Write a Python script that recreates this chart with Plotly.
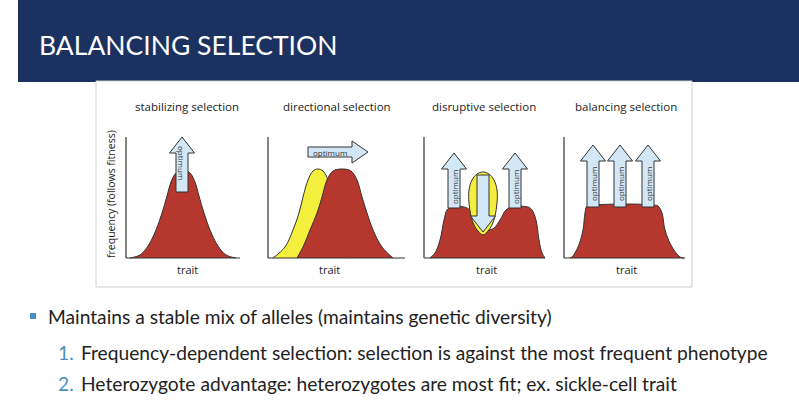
import plotly.graph_objects as go

FIG_W, FIG_H = 799, 412

# ---------------- text content ----------------
slide_title = "BALANCING SELECTION"
panel_titles = ["stabilizing selection", "directional selection",
                "disruptive selection", "balancing selection"]
trait_label = "trait"
freq_label = "frequency (follows fitness)"
arrow_label = "optimum"
bullet_main = "Maintains a stable mix of alleles (maintains genetic diversity)"
numbered_items = ["Frequency-dependent selection: selection is against the most frequent phenotype",
                  "Heterozygote advantage: heterozygotes are most fit; ex. sickle-cell trait"]
number_marks = ["1.", "2."]

# ---------------- curve data (trait, frequency) ----------------
# stabilizing
stab_trait = [4, 14, 22, 30, 36, 41, 45, 50, 57, 64, 69, 73, 78, 84, 92, 100, 110]
stab_freq = [0, 3, 12, 28, 45, 62, 76, 85, 88, 85, 76, 62, 45, 28, 12, 3, 0]
# directional: yellow (before) and red (after)
dir_old_trait = [5, 17, 25, 31, 35, 40, 45, 50, 55, 60, 64, 68, 72, 77, 82]
dir_old_freq = [0, 11, 28, 45, 61, 78, 87, 89, 87, 78, 60, 40, 20, 5, 0]
dir_new_trait = [29, 35, 42, 49, 54, 59, 65, 74, 83, 89, 94, 99, 105, 114, 125]
dir_new_freq = [0, 11, 28, 45, 61, 78, 87, 89, 87, 78, 61, 45, 28, 11, 0]
# disruptive: red plateau with notch, yellow selected-against bump
dis_trait = [6, 11, 16, 20, 23, 27, 40, 46, 52, 58, 64, 70, 76, 82, 88, 104, 108, 112, 115, 118, 121]
dis_freq = [0, 5, 18, 38, 48, 51, 51, 48, 38, 30, 28, 30, 38, 48, 51, 51, 48, 38, 18, 5, 0]
dis_bump_trait = [59, 54, 50, 47, 45, 45, 48, 53, 59, 65, 70, 73, 73, 71, 68, 64, 59]
dis_bump_freq = [23, 27, 33, 42, 55, 68, 78, 84, 86, 84, 78, 68, 55, 42, 33, 27, 23]
# balancing: broad plateau
bal_trait = [6, 8, 14, 19, 21, 23, 30, 60, 90, 94, 98, 101, 108, 116, 120]
bal_freq = [0, 1, 11, 28, 45, 52, 53, 54, 53, 52, 45, 28, 11, 1, 0]

# optimum arrows: (centre, base, tip) in panel units
stab_arrows = [(56, 66, 121)]
dir_arrows = [(106, 40, 100)]          # (level, start, tip) horizontal
dis_up_arrows = [(30, 50, 105), (91, 50, 105)]
dis_down_arrows = [(59, 83, 26)]
bal_arrows = [(29, 51, 113), (56, 51, 113), (84, 51, 113)]

# ---------------- styles ----------------
NAVY = "#1b3160"
RED = "#b5372d"
YELLOW = "#f4ee3c"
SKY = "#d3e8f7"
INK = "#333333"
BLUE = "#4a8fc4"
FONT_SMALL = "Open Sans"
FONT_BIG = "Lato"

# panel frames in pixels: (left x, width), common baseline / height
panels = [(126, 114), (268, 137), (424, 121), (564, 121)]
BASE_Y = 258
AX_H = 121
PAD = 2
TOPR = 130


def px(x):
    return x / FIG_W


def py(y):
    return 1 - y / FIG_H


fig = go.Figure()
layout_axes = {}
shapes = []
annotations = []


def label(x, y, text, size, color="#222", family=FONT_SMALL, xanchor="center", angle=0):
    annotations.append(dict(xref="paper", yref="paper", x=px(x), y=py(y), text=text, showarrow=False,
                            xanchor=xanchor, yanchor="middle", textangle=angle,
                            font=dict(family=family, size=size, color=color)))


for i, (x0, w) in enumerate(panels):
    n = "" if i == 0 else str(i + 1)
    layout_axes["xaxis" + n] = dict(domain=[px(x0 - PAD), px(x0 + w + PAD)], range=[-PAD, w + PAD],
                                    visible=False, anchor="y" + n, fixedrange=True)
    layout_axes["yaxis" + n] = dict(domain=[py(BASE_Y + PAD), py(BASE_Y - TOPR)], range=[-PAD, TOPR],
                                    visible=False, anchor="x" + n, fixedrange=True)
    shapes.append(dict(type="line", xref="x" + n, yref="y" + n, x0=0, x1=0, y0=0, y1=AX_H,
                       line=dict(color=INK, width=1.2), layer="above"))
    shapes.append(dict(type="line", xref="x" + n, yref="y" + n, x0=0, x1=w, y0=0, y1=0,
                       line=dict(color=INK, width=1.2), layer="above"))


def area(xs, ys, n, color, smooth=1.0):
    fig.add_trace(go.Scatter(x=xs, y=ys, xaxis="x" + n, yaxis="y" + n, mode="lines",
                             fill="toself", fillcolor=color,
                             line=dict(color=INK, width=1, shape="spline", smoothing=smooth),
                             hoverinfo="skip", showlegend=False))


SH, HH, HL = 6, 12.5, 16  # shaft half width, head half width, head length


def vert_arrow(xc, y0, y1, n):
    d = 1 if y1 > y0 else -1
    yh = y1 - d * HL
    xs = [xc - SH, xc - SH, xc - HH, xc, xc + HH, xc + SH, xc + SH, xc - SH]
    ys = [y0, yh, yh, y1, yh, yh, y0, y0]
    fig.add_trace(go.Scatter(x=xs, y=ys, xaxis="x" + n, yaxis="y" + n, mode="lines",
                             fill="toself", fillcolor=SKY, line=dict(color=INK, width=1),
                             hoverinfo="skip", showlegend=False))


def horiz_arrow(yc, x0, x1, n):
    xh = x1 - HL
    xs = [x0, xh, xh, x1, xh, xh, x0, x0]
    ys = [yc - 5, yc - 5, yc - 11, yc, yc + 11, yc + 5, yc + 5, yc - 5]
    fig.add_trace(go.Scatter(x=xs, y=ys, xaxis="x" + n, yaxis="y" + n, mode="lines",
                             fill="toself", fillcolor=SKY, line=dict(color=INK, width=1),
                             hoverinfo="skip", showlegend=False))


def arrow_text(x, y, n, angle):
    annotations.append(dict(xref="x" + n, yref="y" + n, x=x, y=y, text=arrow_label, showarrow=False,
                            xanchor="center", yanchor="middle",
                            textangle=angle, font=dict(family=FONT_SMALL, size=8, color="#333")))


# panel 1: stabilizing
area(stab_trait, stab_freq, "", RED)
for xc, b, t in stab_arrows:
    vert_arrow(xc, b, t, "")
    arrow_text(xc, 95, "", 90)

# panel 2: directional
area(dir_old_trait, dir_old_freq, "2", YELLOW)
area(dir_new_trait, dir_new_freq, "2", RED)
for yc, s, t in dir_arrows:
    horiz_arrow(yc, s, t, "2")
    arrow_text((s + t - HL) / 2, yc, "2", 0)

# panel 3: disruptive
area(dis_trait, dis_freq, "3", RED)
area(dis_bump_trait, dis_bump_freq, "3", YELLOW)
for xc, b, t in dis_down_arrows:
    vert_arrow(xc, b, t, "3")
for xc, b, t in dis_up_arrows:
    vert_arrow(xc, b, t, "3")
    arrow_text(xc, 71, "3", -90)

# panel 4: balancing
area(bal_trait, bal_freq, "4", RED)
for xc, b, t in bal_arrows:
    vert_arrow(xc, b, t, "4")
    arrow_text(xc, 74, "4", -90)

# ---------------- slide decoration ----------------
shapes.insert(0, dict(type="rect", xref="paper", yref="paper", x0=px(96), x1=px(692), y0=py(287), y1=py(81),
                      line=dict(color="#cfcfcf", width=1), fillcolor="white", layer="below"))
shapes.insert(0, dict(type="rect", xref="paper", yref="paper", x0=px(18), x1=1.0, y0=py(82), y1=1.0,
                      line=dict(width=0), fillcolor=NAVY, layer="below"))
shapes.append(dict(type="rect", xref="paper", yref="paper", x0=px(30), x1=px(36), y0=py(319), y1=py(313),
                   line=dict(width=0), fillcolor=BLUE))

label(37, 45, slide_title, 26.5, color="white", family=FONT_BIG, xanchor="left")

title_cx = [187, 337, 484, 626]
trait_cx = [187, 329, 486, 626]
for t, cx, tx in zip(panel_titles, title_cx, trait_cx):
    label(cx, 106, t, 11.5)
    label(tx, 269, trait_label, 11)
label(111, 194, freq_label, 10.5, angle=-90)

label(46, 316, bullet_main, 19.2, family=FONT_BIG, xanchor="left")
for k, (m, t) in enumerate(zip(number_marks, numbered_items)):
    yy = 352 + k * 31
    label(56, yy, m, 19.2, color=BLUE, family=FONT_BIG, xanchor="left")
    label(79, yy, t, 19.2, family=FONT_BIG, xanchor="left")

fig.update_layout(width=FIG_W, height=FIG_H, margin=dict(l=0, r=0, t=0, b=0),
                  paper_bgcolor="white", plot_bgcolor="rgba(0,0,0,0)",
                  shapes=shapes, annotations=annotations, showlegend=False, **layout_axes)

fig.write_html("out.html", config={"displayModeBar": False})
